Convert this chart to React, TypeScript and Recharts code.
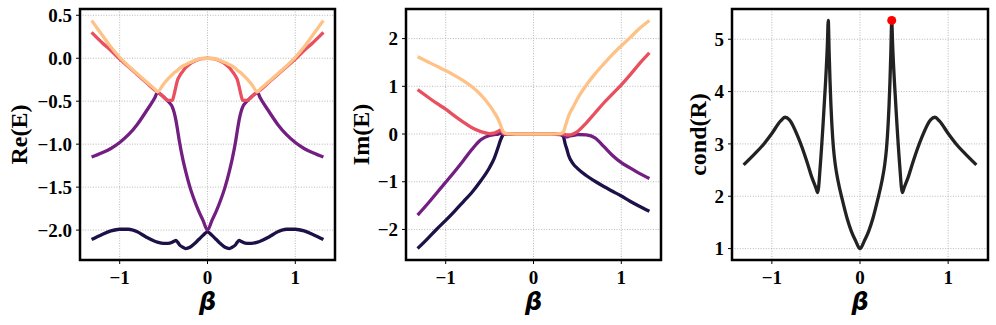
import { ComposedChart, Line, Scatter, XAxis, YAxis, CartesianGrid, ReferenceArea } from 'recharts';

// Re(E) panel
const BETA_RE = [-1.32, -1.2, -1.1, -1.0, -0.9, -0.8, -0.7, -0.6, -0.57, -0.5, -0.45, -0.4, -0.38, -0.36, -0.34, -0.32, -0.28, -0.25, -0.2, -0.15, -0.1, -0.05, 0,
  0.05, 0.1, 0.15, 0.2, 0.25, 0.28, 0.32, 0.34, 0.36, 0.38, 0.4, 0.45, 0.5, 0.57, 0.6, 0.7, 0.8, 0.9, 1.0, 1.1, 1.2, 1.32];
const RE_1 = [-2.11, -2.05, -2.01, -1.99, -1.99, -2.02, -2.08, -2.13, -2.14, -2.155, -2.155, -2.14, -2.13, -2.12, -2.14, -2.17, -2.2, -2.215, -2.2, -2.16, -2.11, -2.06, -2.02,
  -2.06, -2.11, -2.16, -2.2, -2.215, -2.2, -2.17, -2.14, -2.12, -2.13, -2.14, -2.155, -2.155, -2.14, -2.13, -2.08, -2.02, -1.99, -1.99, -2.01, -2.05, -2.11];
const RE_2 = [-1.15, -1.1, -1.05, -0.98, -0.89, -0.77, -0.62, -0.46, -0.4, -0.45, -0.5, -0.57, -0.63, -0.72, -0.84, -0.97, -1.18, -1.31, -1.5, -1.65, -1.78, -1.89, -2.0,
  -1.89, -1.78, -1.65, -1.5, -1.31, -1.18, -0.97, -0.84, -0.72, -0.63, -0.57, -0.5, -0.45, -0.4, -0.46, -0.62, -0.77, -0.89, -0.98, -1.05, -1.1, -1.15];
const RE_3 = [0.3, 0.18, 0.09, -0.01, -0.1, -0.19, -0.28, -0.37, -0.39, -0.45, -0.49, -0.49, -0.42, -0.33, -0.25, -0.21, -0.15, -0.11, -0.065, -0.035, -0.013, -0.004, 0,
  -0.004, -0.013, -0.035, -0.065, -0.11, -0.15, -0.21, -0.25, -0.33, -0.42, -0.49, -0.49, -0.45, -0.39, -0.37, -0.28, -0.19, -0.1, -0.01, 0.09, 0.18, 0.3];
const RE_4 = [0.44, 0.27, 0.13, 0.01, -0.09, -0.18, -0.27, -0.36, -0.39, -0.3, -0.24, -0.19, -0.17, -0.155, -0.14, -0.12, -0.09, -0.075, -0.05, -0.03, -0.01, 0, 0,
  0, -0.01, -0.03, -0.05, -0.075, -0.09, -0.12, -0.14, -0.155, -0.17, -0.19, -0.24, -0.3, -0.39, -0.36, -0.27, -0.18, -0.09, 0.01, 0.13, 0.27, 0.44];

// Im(E) panel
const BETA_IM = [-1.32, -1.2, -1.1, -1.0, -0.9, -0.8, -0.7, -0.6, -0.5, -0.45, -0.4, -0.38, -0.36, -0.34, -0.3, -0.2, -0.1, 0,
  0.1, 0.2, 0.3, 0.34, 0.36, 0.38, 0.4, 0.45, 0.5, 0.6, 0.7, 0.8, 0.9, 1.0, 1.1, 1.2, 1.32];
const IM_1 = [-2.4, -2.18, -1.99, -1.81, -1.62, -1.42, -1.22, -0.98, -0.7, -0.52, -0.26, -0.15, -0.06, -0.01, 0, 0, 0, 0,
  0, 0, 0, -0.05, -0.2, -0.32, -0.45, -0.62, -0.72, -0.87, -0.99, -1.1, -1.2, -1.3, -1.41, -1.51, -1.62];
const IM_2 = [-1.7, -1.45, -1.23, -1.01, -0.79, -0.56, -0.32, -0.12, -0.03, -0.01, 0, 0.01, 0.01, 0, 0, 0, 0, 0,
  0, 0, -0.01, -0.03, -0.05, -0.06, -0.05, -0.03, -0.01, -0.02, -0.08, -0.26, -0.45, -0.6, -0.71, -0.82, -0.93];
const IM_3 = [0.93, 0.77, 0.64, 0.52, 0.38, 0.25, 0.13, 0.05, 0.01, 0.02, 0.06, 0.08, 0.05, 0.01, 0, 0, 0, 0,
  0, 0, 0, 0, -0.01, -0.02, -0.02, 0, 0.05, 0.23, 0.44, 0.65, 0.84, 1.03, 1.24, 1.46, 1.7];
const IM_4 = [1.62, 1.51, 1.42, 1.33, 1.23, 1.12, 0.99, 0.82, 0.6, 0.46, 0.3, 0.21, 0.11, 0.04, 0.01, 0, 0, 0,
  0, 0, 0.01, 0.04, 0.15, 0.27, 0.38, 0.56, 0.74, 1.02, 1.26, 1.47, 1.67, 1.85, 2.02, 2.2, 2.38];

// cond(R) panel
const BETA_COND = [-1.32, -1.2, -1.1, -1.0, -0.9, -0.85, -0.8, -0.7, -0.6, -0.55, -0.5, -0.48, -0.45, -0.42, -0.39, -0.37, -0.36, -0.35, -0.34, -0.33, -0.32, -0.3, -0.28, -0.25, -0.2, -0.15, -0.1, -0.05, 0,
  0.05, 0.1, 0.15, 0.2, 0.25, 0.28, 0.3, 0.32, 0.33, 0.34, 0.35, 0.36, 0.37, 0.39, 0.42, 0.45, 0.48, 0.5, 0.55, 0.6, 0.7, 0.8, 0.85, 0.9, 1.0, 1.1, 1.2, 1.32];
const COND = [2.6, 2.8, 2.98, 3.2, 3.44, 3.51, 3.46, 3.12, 2.65, 2.38, 2.16, 2.07, 2.6, 3.35, 4.2, 4.9, 5.36, 4.75, 4.2, 3.75, 3.4, 2.9, 2.6, 2.3, 1.93, 1.6, 1.34, 1.15, 1.0,
  1.15, 1.34, 1.6, 1.93, 2.3, 2.6, 2.9, 3.4, 3.75, 4.2, 4.75, 5.36, 4.9, 4.2, 3.35, 2.6, 2.07, 2.16, 2.38, 2.65, 3.12, 3.46, 3.51, 3.44, 3.2, 2.98, 2.8, 2.6];
const PEAK_BETA = 0.36;
const PEAK_COND = 5.36;

const X_TICKS = [-1, 0, 1];
const RE_TICKS = [-2, -1.5, -1, -0.5, 0, 0.5];
const IM_TICKS = [-2, -1, 0, 1, 2];
const COND_TICKS = [1, 2, 3, 4, 5];

const X_DOMAIN: [number, number] = [-1.452, 1.452];
const COLORS = ['#1d1147', '#721f81', '#e8505f', '#fec287'];

const reRows = BETA_RE.map((b, i) => ({ beta: b, s1: RE_1[i], s2: RE_2[i], s3: RE_3[i], s4: RE_4[i] }));
const imRows = BETA_IM.map((b, i) => ({ beta: b, s1: IM_1[i], s2: IM_2[i], s3: IM_3[i], s4: IM_4[i] }));
const condRows = BETA_COND.map((b, i) => ({ beta: b, c: COND[i] }));
const peak = [{ beta: PEAK_BETA, c: PEAK_COND }];

const SERIF = '"Liberation Serif", "Times New Roman", serif';
const TICK = { fontFamily: SERIF, fontWeight: 700, fontSize: 19, fill: '#000' };
const fmt = (d: number) => (v: number) => v.toFixed(d).replace('-', '\u2212');

function YTitle({ viewBox, text, dx }: any) {
  const x = viewBox.x + dx;
  const y = viewBox.y + viewBox.height / 2;
  return (
    <text x={x} y={y} transform={`rotate(-90 ${x} ${y})`} textAnchor="middle" dominantBaseline="central"
      style={{ fontFamily: SERIF, fontWeight: 700, fontSize: 24, fill: '#000' }}>{text}</text>
  );
}

function XTitle({ viewBox }: any) {
  return (
    <text x={viewBox.x + viewBox.width / 2} y={viewBox.y + viewBox.height - 15} textAnchor="middle"
      style={{ fontFamily: 'DejaVu Sans', fontWeight: 700, fontStyle: 'italic', fontSize: 24, fill: '#000' }}>β</text>
  );
}

function Panel({ left, width, yWidth, marginRight, rows, yDomain, yTicks, digits, title, titleDx, children }: any) {
  return (
    <div style={{ position: 'absolute', left, top: 0 }}>
      <ComposedChart width={width} height={325} data={rows} margin={{ top: 9, right: marginRight, bottom: 0, left: 0 }}>
        <CartesianGrid stroke="#b0b0b0" strokeDasharray="1 1.6" strokeWidth={0.9} />
        <XAxis type="number" dataKey="beta" domain={X_DOMAIN} ticks={X_TICKS} allowDataOverflow
          axisLine={false} tickLine={{ stroke: '#000', strokeWidth: 1 }} tickSize={4} tickMargin={7}
          tick={TICK} tickFormatter={fmt(0)} height={65} label={<XTitle />} />
        <YAxis type="number" domain={yDomain} ticks={yTicks} allowDataOverflow width={yWidth}
          axisLine={false} tickLine={{ stroke: '#000', strokeWidth: 1 }} tickSize={4} tickMargin={4}
          tick={TICK} tickFormatter={fmt(digits)} label={<YTitle text={title} dx={titleDx} />} />
        {children}
        <ReferenceArea x1={X_DOMAIN[0]} x2={X_DOMAIN[1]} y1={yDomain[0]} y2={yDomain[1]} ifOverflow="visible"
          fill="none" fillOpacity={0} stroke="#000" strokeWidth={2.5} />
      </ComposedChart>
    </div>
  );
}

function eigenLines() {
  return ['s1', 's2', 's3', 's4'].map((k, i) => (
    <Line key={k} dataKey={k} type="monotone" stroke={COLORS[i]} strokeWidth={3.3} dot={false} isAnimationActive={false} />
  ));
}

export default function App() {
  return (
    <div style={{ position: 'absolute', left: 0, top: 0, width: 996, height: 325, background: '#fff' }}>
      <Panel left={0} width={340} yWidth={80} marginRight={5} rows={reRows} yDomain={[-2.348, 0.573]}
        yTicks={RE_TICKS} digits={1} title="Re(E)" titleDx={19}>
        {eigenLines()}
      </Panel>
      <Panel left={340} width={326} yWidth={66} marginRight={5} rows={imRows} yDomain={[-2.64, 2.62]}
        yTicks={IM_TICKS} digits={0} title="Im(E)" titleDx={21}>
        {eigenLines()}
      </Panel>
      <Panel left={666} width={330} yWidth={66} marginRight={8} rows={condRows} yDomain={[0.782, 5.578]}
        yTicks={COND_TICKS} digits={0} title="cond(R)" titleDx={32}>
        <Line dataKey="c" type="monotone" stroke="#222222" strokeWidth={3.3} dot={false} isAnimationActive={false} />
        <Scatter data={peak} dataKey="c" isAnimationActive={false}
          shape={(p: any) => <circle cx={p.cx} cy={p.cy} r={4.5} fill="#ff0000" />} />
      </Panel>
    </div>
  );
}
